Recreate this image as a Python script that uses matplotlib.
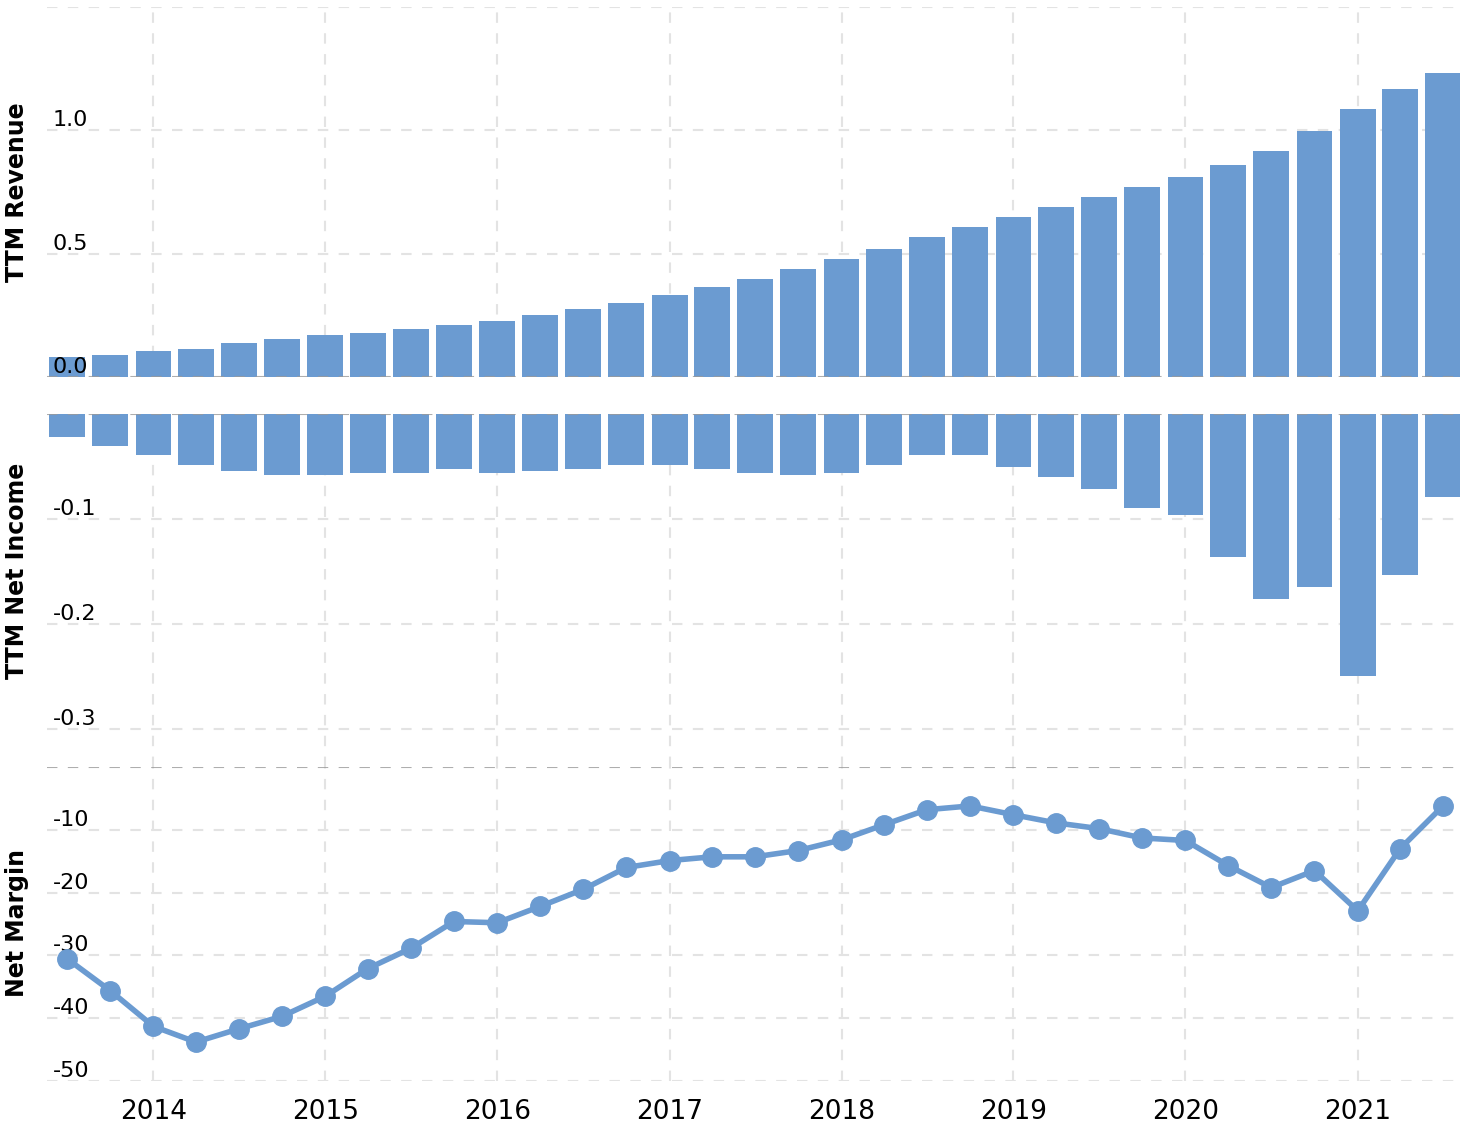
import matplotlib
matplotlib.use('Agg')
import matplotlib.pyplot as plt
import pandas as pd

# quarterly points, 2013 Q3 .. 2021 Q3
quarters = pd.date_range('2013-07-01', '2021-07-01', freq='QS')

revenue = [0.081, 0.089, 0.105, 0.113, 0.138, 0.154, 0.170, 0.178, 0.194, 0.211,
           0.227, 0.251, 0.275, 0.300, 0.332, 0.364, 0.397, 0.437, 0.478, 0.518,
           0.567, 0.607, 0.648, 0.688, 0.729, 0.769, 0.810, 0.858, 0.915, 0.996,
           1.085, 1.166, 1.231]

net_income = [-0.022, -0.030, -0.039, -0.049, -0.054, -0.058, -0.058, -0.056, -0.056, -0.052,
              -0.056, -0.054, -0.052, -0.049, -0.049, -0.052, -0.056, -0.058, -0.056, -0.049,
              -0.039, -0.039, -0.050, -0.060, -0.071, -0.089, -0.096, -0.136, -0.176, -0.165,
              -0.249, -0.153, -0.079]

net_margin = [-30.5, -35.6, -41.3, -43.8, -41.7, -39.7, -36.5, -32.1, -28.9, -24.6,
              -24.8, -22.2, -19.5, -16.0, -14.9, -14.3, -14.3, -13.3, -11.6, -9.2,
              -6.8, -6.2, -7.6, -8.9, -9.8, -11.3, -11.7, -15.7, -19.2, -16.5,
              -22.9, -13.0, -6.2]

year_ticks = pd.date_range('2014-01-01', '2021-01-01', freq='YS')
year_labels = [str(d.year) for d in year_ticks]

blue = '#6b9bd1'
grid_col = '#e3e3e3'
zero_col = '#9a9a9a'
dash = (0, (5, 5))

fig = plt.figure(figsize=(14.64, 11.28), dpi=100)
L, W = 47 / 1464, 1413 / 1464
ax1 = fig.add_axes([L, 1 - 377 / 1128, W, 370 / 1128])
ax2 = fig.add_axes([L, 1 - 767 / 1128, W, 353 / 1128], sharex=ax1)
ax3 = fig.add_axes([L, 1 - 1081 / 1128, W, 314 / 1128], sharex=ax1)


def style(ax, yticks, ylabels):
    for s in ax.spines.values():
        s.set_visible(False)
    ax.set_yticks(yticks)
    ax.set_yticklabels(ylabels)
    # grid drawn by hand so the tick labels can sit above the bars
    for y in yticks:
        if y != 0:
            ax.axhline(y, color=grid_col, linestyle=dash, linewidth=1.5, zorder=0)
    for d in year_ticks:
        ax.axvline(d, color=grid_col, linestyle=dash, linewidth=1.5, zorder=0)
    ax.tick_params(length=0)
    ax.tick_params(axis='y', pad=-4, labelsize=16)
    for lab in ax.get_yticklabels():
        lab.set_ha('left')
        lab.set_va('bottom')
    ax.axhline(0, color=zero_col, linestyle=dash, linewidth=1.5, alpha=0.8, zorder=3)


ax1.bar(quarters, revenue, width=76, color=blue, zorder=1)
ax1.set_ylim(0, 1.5)
style(ax1, [0, 0.5, 1.0, 1.5], ['0.0', '0.5', '1.0', ''])

ax2.bar(quarters, net_income, width=76, color=blue, zorder=1)
ax2.set_ylim(-0.336, 0)
style(ax2, [-0.3, -0.2, -0.1, 0], ['-0.3', '-0.2', '-0.1', ''])

ax3.plot(quarters, net_margin, color=blue, linewidth=4, marker='o', markersize=14, zorder=4)
ax3.set_ylim(-50, 0)
style(ax3, [-50, -40, -30, -20, -10, 0], ['-50', '-40', '-30', '-20', '-10', ''])

ax1.set_xlim(pd.Timestamp('2013-05-20'), pd.Timestamp('2021-08-06'))
ax3.set_xticks(year_ticks)
ax3.set_xticklabels(year_labels)
ax3.tick_params(axis='x', labelsize=19, pad=13)
ax1.tick_params(axis='x', labelbottom=False)
ax2.tick_params(axis='x', labelbottom=False)

ax1.set_ylabel('TTM Revenue', fontsize=17, fontweight='bold')
ax2.set_ylabel('TTM Net Income', fontsize=17, fontweight='bold')
ax3.set_ylabel('Net Margin', fontsize=17, fontweight='bold')
ax1.yaxis.set_label_coords(-0.0125, 0.5)
ax2.yaxis.set_label_coords(-0.0125, 0.555)
ax3.yaxis.set_label_coords(-0.0125, 0.503)

plt.savefig('out.png', dpi=100)
